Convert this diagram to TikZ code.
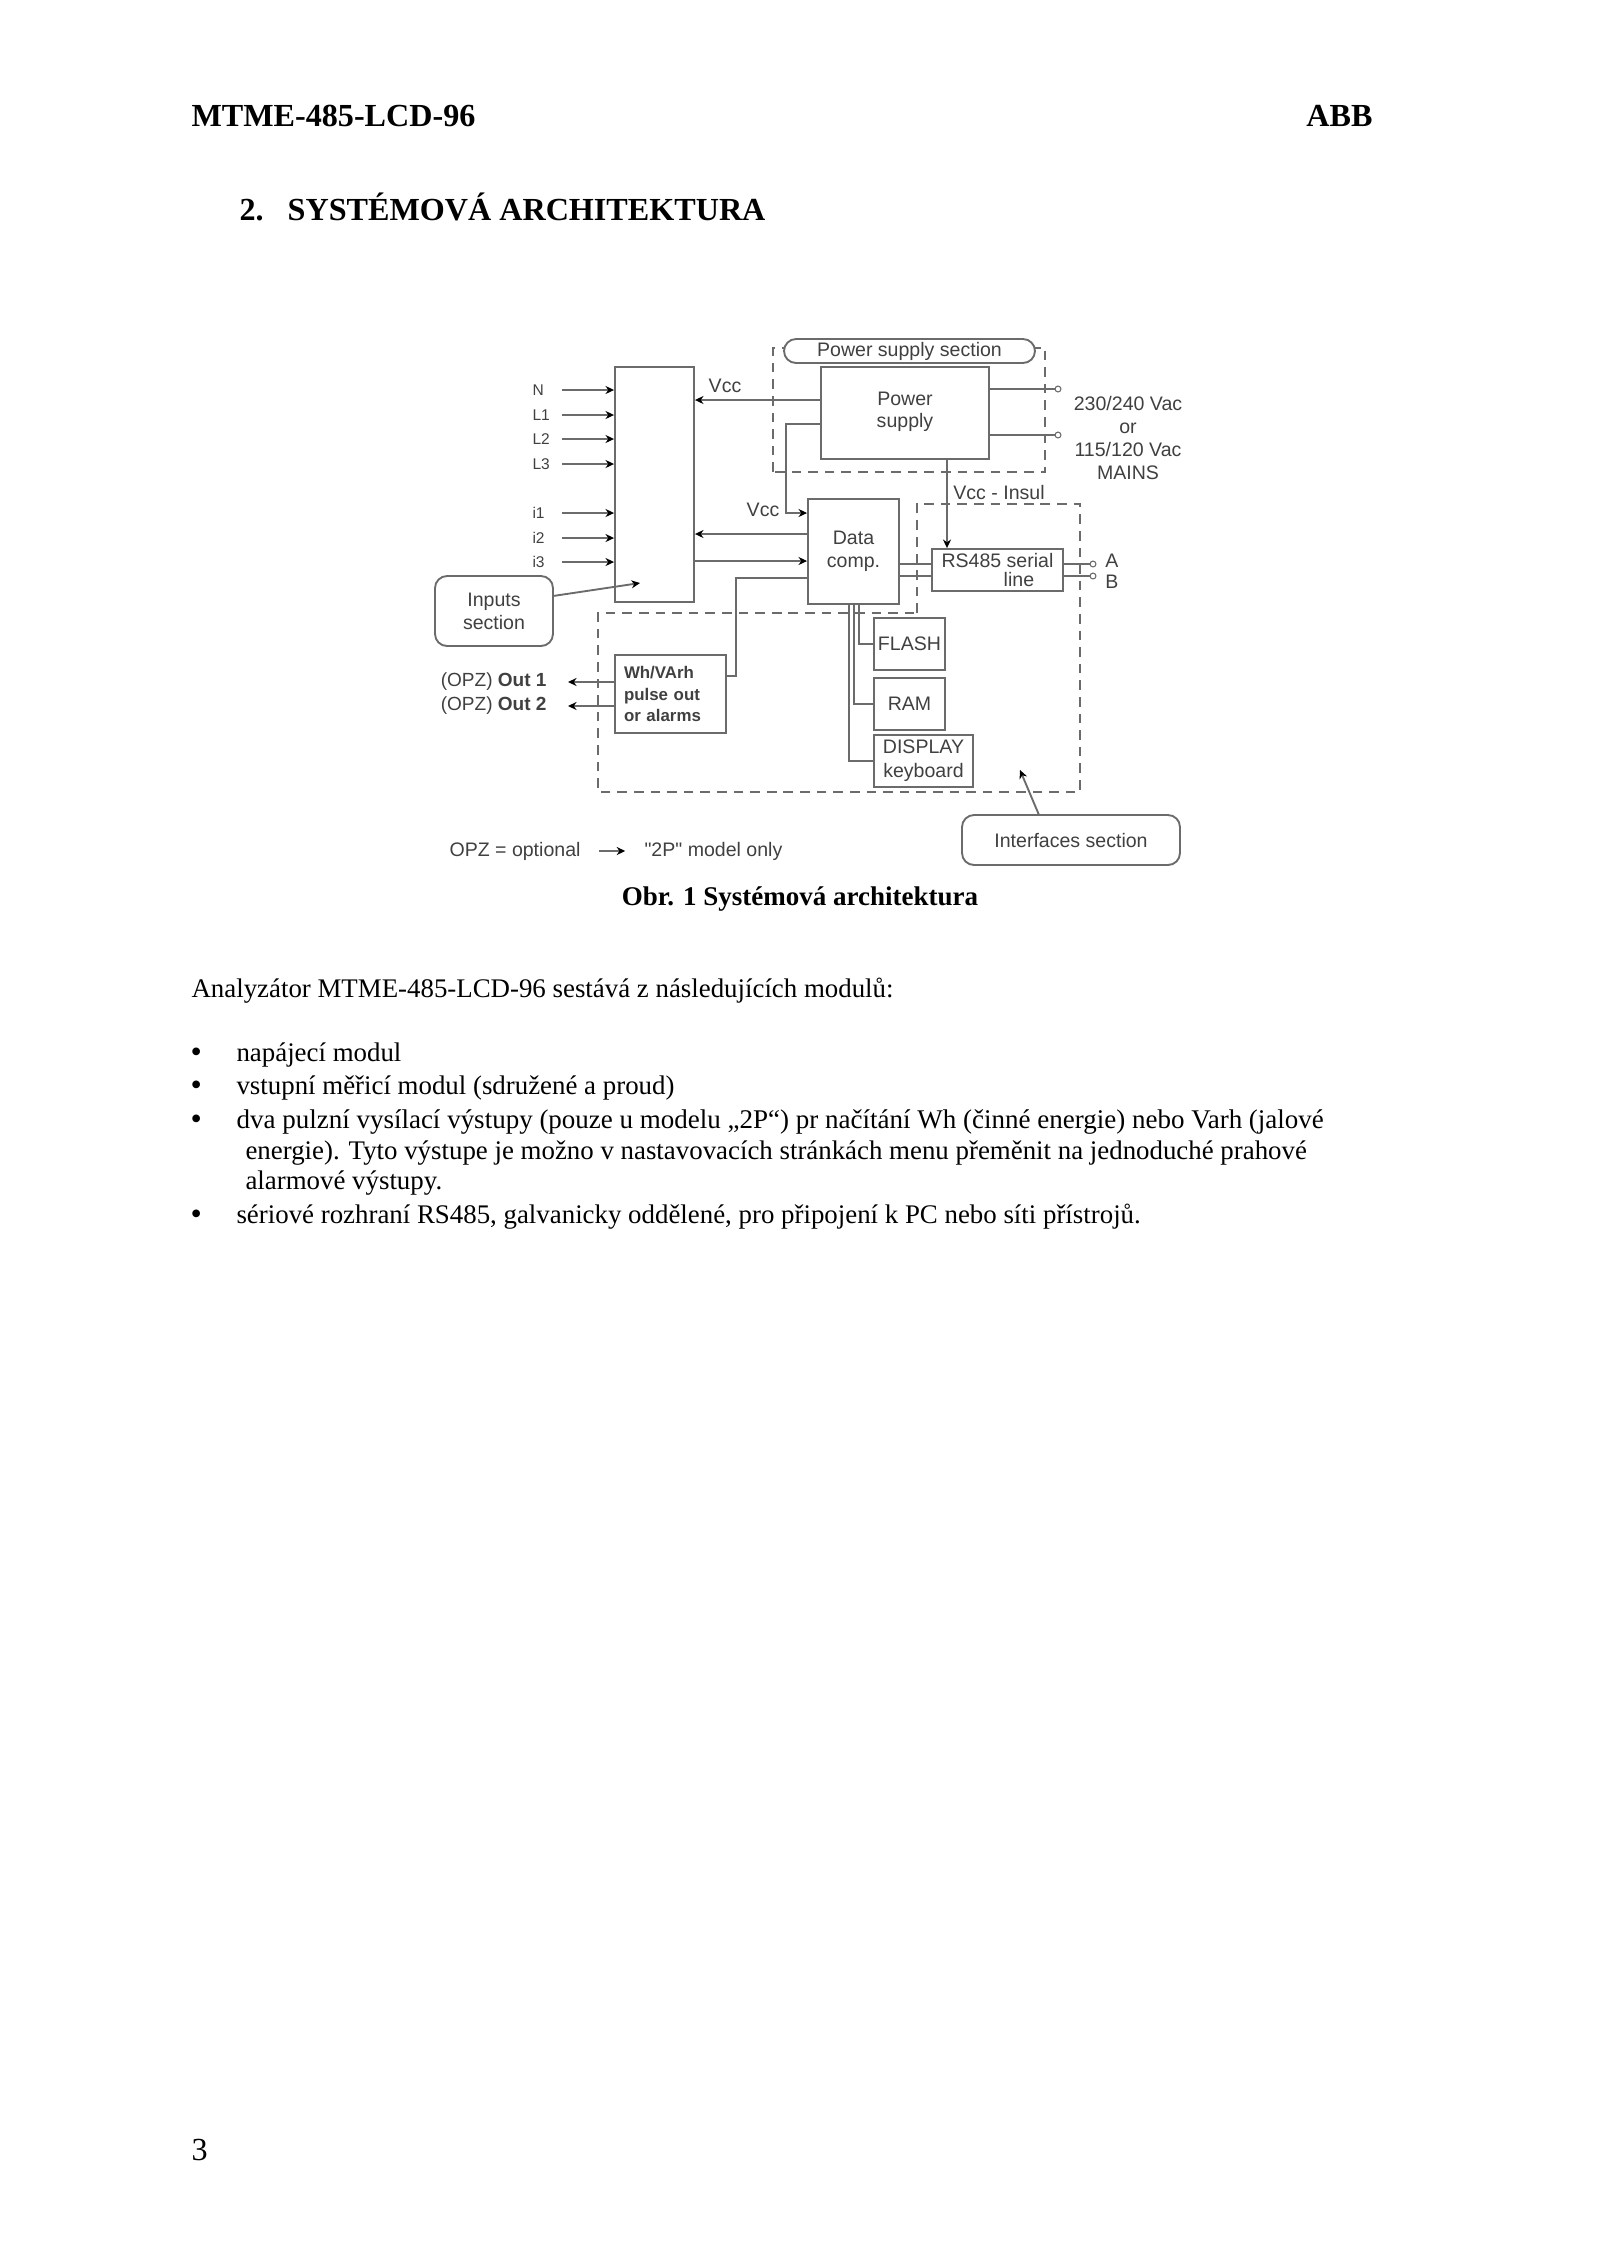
\documentclass[tikz,border=0pt]{standalone}
\usepackage{fontspec}
\usetikzlibrary{arrows.meta}
\setmainfont{Liberation Serif}
\newfontfamily\diagfont{Liberation Sans}
\definecolor{linegray}{gray}{0.42}
\definecolor{textgray}{gray}{0.25}
\def\pxu{0.013125cm}
\tikzset{
  block/.style={draw=linegray,line width=0.7pt,inner sep=0pt,align=center,text=textgray,
    font=\diagfont\fontsize{7.3}{7.9}\selectfont},
  pill/.style={block,fill=white,rounded corners=4.5pt},
  lab/.style={inner sep=0pt,text=textgray,font=\diagfont\fontsize{7.3}{7.9}\selectfont},
  pinlab/.style={lab,anchor=west,font=\diagfont\fontsize{5.8}{6}\selectfont},
  wire/.style={draw=linegray,line width=0.7pt},
  zone/.style={draw=linegray,line width=0.55pt,dash pattern=on 3.6pt off 2.6pt},
  term/.style={draw=linegray,line width=0.4pt,fill=white},
  body/.style={inner sep=0pt,anchor=base west,font=\fontsize{10.03}{12}\selectfont},
  head/.style={inner sep=0pt,anchor=base west,font=\bfseries\fontsize{12}{14}\selectfont}
}
\begin{document}
\begin{tikzpicture}[x=\pxu,y=-\pxu,>={Stealth[length=3.2pt,width=3pt,black]}]
  \useasboundingbox (0,0) rectangle (1600,2264);

  \node[head] (doc) at (191,126) {MTME-485-LCD-96};
  \node[head,anchor=base east] (firm) at (1373,126) {ABB};
  \node[head] (sec) at (239,220) {2.\hspace{9pt}SYSTÉMOVÁ ARCHITEKTURA};

  \draw[zone] (773,472) -- (773,348) -- (1045,348) -- (1045,472) -- cycle;
  \draw[zone] (917,613) -- (917,504) -- (1080,504) -- (1080,792) -- (598,792) -- (598,613) -- cycle;

  \node[pill,minimum width=251*\pxu,minimum height=24*\pxu] (psec) at (909.5,351) {Power supply section};
  \node[block,minimum width=79*\pxu,minimum height=235*\pxu] (inbox) at (654.5,484.5) {};
  \node[block,minimum width=168*\pxu,minimum height=92*\pxu] (psu) at (905,413) {Power\\[0.6pt]supply\\[-5.5pt]};
  \node[block,minimum width=91*\pxu,minimum height=105*\pxu] (data) at (853.5,551.5) {Data\\[0.6pt]comp.};
  \node[block,minimum width=131*\pxu,minimum height=42*\pxu] (rs) at (997.5,570) {RS485 serial\\[-0.6pt]\hspace*{16pt}line};
  \node[block,minimum width=111*\pxu,minimum height=78*\pxu,text width=93*\pxu,align=left,font=\diagfont\bfseries\fontsize{6.3}{7.9}\selectfont] (pulse) at (670.5,694) {Wh/VArh\\pulse out\\or alarms};
  \node[block,minimum width=71*\pxu,minimum height=52*\pxu] (flash) at (909.5,644) {FLASH};
  \node[block,minimum width=71*\pxu,minimum height=52*\pxu] (ram) at (909.5,704) {RAM};
  \node[block,minimum width=99*\pxu,minimum height=52*\pxu] (disp) at (923.5,761) {DISPLAY\\[1pt]keyboard};
  \node[pill,minimum width=118*\pxu,minimum height=70*\pxu] (insec) at (494,611) {Inputs\\[0.6pt]section};
  \node[pill,minimum width=218*\pxu,minimum height=50*\pxu] (ifsec) at (1071,840) {Interfaces section};

  \foreach \y/\lab/\nm in {390/N/n,415/L1/la,439/L2/lb,464/L3/lc,513/i1/ia,538/i2/ib,562/i3/ic}
  {
    \node[pinlab] (\nm) at (532,\y) {\lab};
    \coordinate (\nm p) at (562,\y);
    \draw[wire,->] (\nm p) -- (\nm p -| inbox.west);
  }

  \coordinate (vcca) at (821,400);
  \coordinate (vccb) at (821,424);
  \coordinate (vccbend) at (786,513);
  \coordinate (busa) at (808,534);
  \coordinate (busb) at (694,561);
  \coordinate (busc) at (808,578);
  \coordinate (buscend) at (736,676);
  \coordinate (insul) at (947,459);
  \draw[wire,->] (vcca) -- (vcca -| inbox.east);
  \draw[wire,->] (vccb) -| (vccbend) -- (vccbend -| data.west);
  \draw[wire,->] (busa) -- (busa -| inbox.east);
  \draw[wire,->] (busb) -- (busb -| data.west);
  \draw[wire] (busc) -| (buscend) -- (buscend -| pulse.east);
  \draw[wire,->] (insul) -- (insul |- rs.north);
  \node[lab] (vcclaba) at (725,386) {Vcc};
  \node[lab] (vcclabb) at (763,510) {Vcc};
  \node[lab] (vcclabc) at (999,492) {Vcc - Insul};

  \foreach \y/\nm in {389/mainsa,435/mainsb}
  {
    \coordinate (\nm) at (1058,\y);
    \draw[wire] (\nm -| psu.east) -- (\nm);
    \draw[term] (\nm) circle (1.1pt);
  }
  \node[lab,align=center] (mains) at (1128,438) {230/240 Vac\\[0.6pt]or\\[0.6pt]115/120 Vac\\[0.6pt]MAINS};

  \foreach \y/\lab/\nm/\ty in {564/A/outa/561,576/B/outb/582}
  {
    \coordinate (\nm) at (1093,\y);
    \draw[wire] (\nm -| data.east) -- (\nm -| rs.west);
    \draw[wire] (\nm -| rs.east) -- (\nm);
    \draw[term] (\nm) circle (1.1pt);
    \node[lab] (\nm lab) at (1112,\ty) {\lab};
  }

  \foreach \x/\nm in {859/flash,854/ram,849/disp}
    \draw[wire] (\x,604) |- (\nm.west);

  \foreach \y/\n/\nm in {682/1/outp,706/2/outq}
  {
    \coordinate (\nm) at (568,\y);
    \draw[wire,->] (\nm -| pulse.west) -- (\nm);
    \node[lab,anchor=east,font=\diagfont\fontsize{7.1}{7.9}\selectfont] (\nm lab) at (547,\y) {(OPZ) \textbf{Out \n}};
  }

  \coordinate (inlead) at (553,596);
  \coordinate (inleadend) at (640,583);
  \coordinate (iflead) at (1039,815);
  \coordinate (ifleadend) at (1020,770);
  \draw[wire,->] (inlead) -- (inleadend);
  \draw[wire,->] (iflead) -- (ifleadend);

  \node[lab,anchor=west] (opz) at (449,851) {OPZ = optional};
  \node[lab,anchor=west] (model) at (644,851) {"2P" model only};
  \draw[wire,->,shorten <=6.7pt,shorten >=7pt] (opz.east) -- (model.west);

  \node[head,anchor=base,font=\bfseries\fontsize{10.08}{12}\selectfont] (cap) at (800,905) {Obr. 1 Systémová architektura};

  \node[body] (intro) at (191,997) {Analyzátor MTME-485-LCD-96 sestává z následujících modulů:};
  \foreach \y/\nm in {1062/ba,1095/bb,1129/bc,1224/bd}
    \node[body,font=\fontsize{12}{14}\selectfont] (\nm) at (190,\y) {\textbullet};
  \node[body] (la1) at (236,1061) {napájecí modul};
  \node[body] (lb1) at (236,1094) {vstupní měřicí modul (sdružené a proud)};
  \node[body,font=\fontsize{10.08}{12}\selectfont] (lc1) at (236,1128) {dva pulzní vysílací výstupy (pouze u modelu „2P“) pr načítání Wh (činné energie) nebo Varh (jalové};
  \node[body] (lc2) at (245,1159) {energie). Tyto výstupe je možno v nastavovacích stránkách menu přeměnit na jednoduché prahové};
  \node[body] (lc3) at (245,1189) {alarmové výstupy.};
  \node[body] (ld1) at (236,1223) {sériové rozhraní RS485, galvanicky oddělené, pro připojení k PC nebo síti přístrojů.};
  \node[body,font=\fontsize{12}{14}\selectfont] (page) at (191,2160) {3};
\end{tikzpicture}
\end{document}
